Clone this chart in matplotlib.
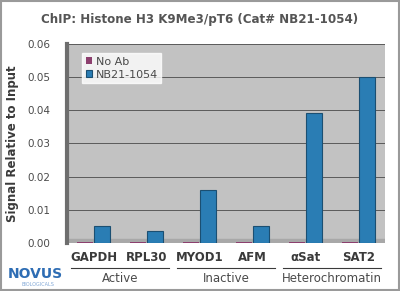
import matplotlib
matplotlib.use("Agg")
import matplotlib.pyplot as plt
import matplotlib.transforms as mtransforms
from matplotlib.patches import Rectangle
from matplotlib.lines import Line2D
import numpy as np

# ---- data ----
targets = ["GAPDH", "RPL30", "MYOD1", "AFM", "αSat", "SAT2"]
no_ab = [0.0004, 0.0004, 0.0004, 0.0004, 0.0004, 0.0004]
nb21 = [0.005, 0.0035, 0.016, 0.005, 0.039, 0.050]
groups = ["Active", "Inactive", "Heterochromatin"]
group_spans = [(0, 1), (2, 3), (4, 5)]
yticks = [0.00, 0.01, 0.02, 0.03, 0.04, 0.05, 0.06]

BLUE = "#2A7DB4"
PURPLE = "#8C3F6E"
TXT = "#4A4A4A"

fig = plt.figure(figsize=(4.0, 2.91), dpi=100)
ax = fig.add_axes([0.168, 0.165, 0.795, 0.685])
ax.set_facecolor("#C2C2C2")

x = np.arange(len(targets))
w = 0.3
ax.bar(x - 0.16, no_ab, width=w, color=PURPLE, zorder=3, label="No Ab")
ax.bar(x + 0.16, nb21, width=w, color=BLUE, edgecolor="#1B4F72",
       linewidth=0.8, zorder=3, label="NB21-1054")

ax.set_xlim(-0.5, len(targets) - 0.5)
ax.set_ylim(0, 0.06)
ax.set_yticks(yticks)
ax.set_yticklabels([f"{t:.2f}" for t in yticks], fontsize=7.5, color=TXT)
ax.yaxis.grid(True, color="#5A5A5A", linewidth=0.7, zorder=1)
ax.set_axisbelow(True)
ax.set_xticks(x)
ax.set_xticklabels(targets, fontsize=8.5, fontweight="bold", color="#3A3A3A")
ax.tick_params(axis="x", length=0, pad=6)
ax.tick_params(axis="y", length=0, pad=12)
for s in ax.spines.values():
    s.set_visible(False)
ax.spines["left"].set_visible(True)
ax.spines["left"].set_color("#6E6E6E")
ax.spines["left"].set_linewidth(3)

# grey floor strip
ax.add_patch(Rectangle((-0.5, 0), len(targets), 0.0012, color="#A8A8A8",
                       zorder=2))

ax.set_ylabel("Signal Relative to Input", fontsize=8.5, fontweight="bold",
              color="#3A3A3A", labelpad=6)

leg = ax.legend(loc="upper left", fontsize=8, frameon=True, fancybox=False,
                handlelength=0.6, handleheight=0.6, handletextpad=0.3,
                borderpad=0.3, labelspacing=0.3, bbox_to_anchor=(0.03, 0.98))
leg.get_frame().set_edgecolor("#FFFFFF")
for t in leg.get_texts():
    t.set_color(TXT)

# group labels with separator lines
trans = mtransforms.blended_transform_factory(ax.transData, ax.transAxes)
for name, (a, b) in zip(groups, group_spans):
    ax.add_line(Line2D([a - 0.42, b + 0.42], [-0.125, -0.125], transform=trans,
                       color="#3A3A3A", linewidth=0.8, clip_on=False))
    ax.text((a + b) / 2, -0.145, name, transform=trans, ha="center", va="top",
            fontsize=8.5, color=TXT)

fig.suptitle("ChIP: Histone H3 K9Me3/pT6 (Cat# NB21-1054)", fontsize=8.6,
             fontweight="bold", color="#555555", y=0.955)

# logo
fig.text(0.02, 0.035, "NOVUS", fontsize=10, fontweight="bold", color="#2E6DB4",
         ha="left", va="bottom")
fig.text(0.055, 0.015, "BIOLOGICALS", fontsize=3.5, color="#7FA6D6",
         ha="left", va="bottom")

# outer border
fig.patches.append(Rectangle((0.003, 0.004), 0.994, 0.992, transform=fig.transFigure,
                             fill=False, edgecolor="#9A9A9A", linewidth=1.5))

fig.savefig("out.png", dpi=100)
